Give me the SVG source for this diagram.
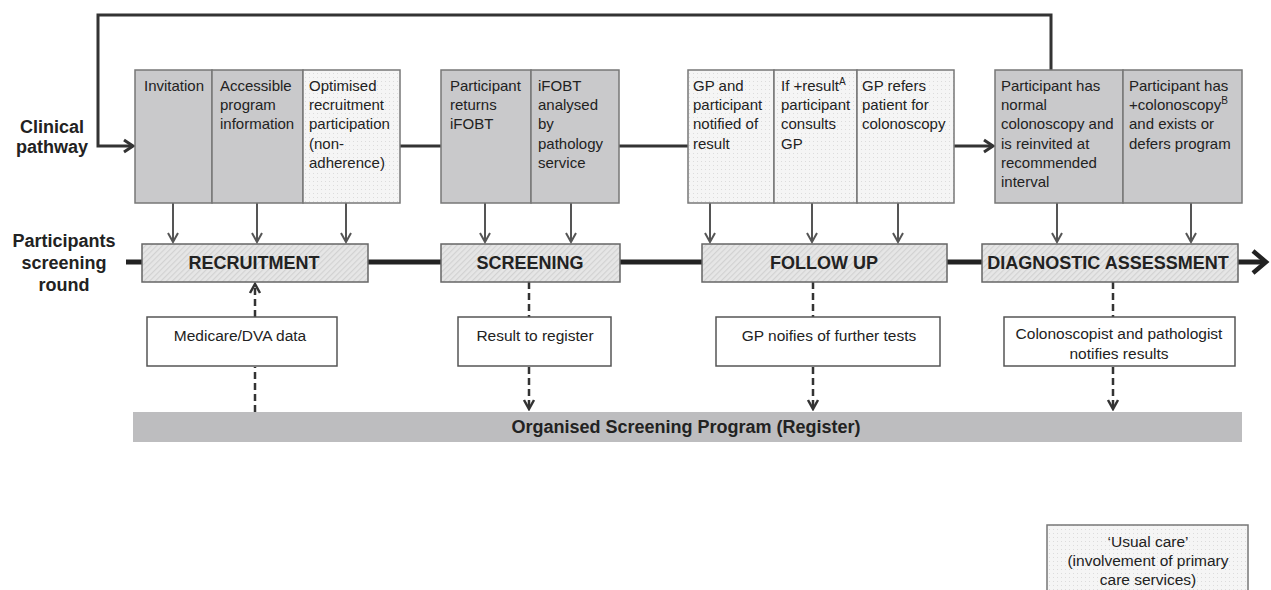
<svg xmlns="http://www.w3.org/2000/svg" width="1271" height="590" viewBox="0 0 1271 590">
<defs>
<style>
.t{font-family:"Liberation Sans",Arial,sans-serif;font-size:15px;fill:#222}
.s{font-family:"Liberation Sans",Arial,sans-serif;font-size:15.5px;fill:#222;text-anchor:middle}
.b{font-family:"Liberation Sans",Arial,sans-serif;font-size:18px;font-weight:bold;fill:#222;text-anchor:middle}
.gray{fill:#c9c9cb;stroke:#777;stroke-width:1.5}
.dot{fill:url(#dots);stroke:#777;stroke-width:1.5}
.stage{fill:url(#hatch);stroke:#666;stroke-width:1.5}
.wbox{fill:#fff;stroke:#555;stroke-width:1.5}
.top{fill:none;stroke:#333;stroke-width:3}
.down{fill:none;stroke:#555;stroke-width:2}
.dash{fill:none;stroke:#333;stroke-width:2.5;stroke-dasharray:7 4}
</style>
<pattern id="dots" width="4" height="4" patternUnits="userSpaceOnUse">
<rect width="4" height="4" fill="#f5f5f5"/>
<rect x="1" y="1" width="1" height="1" fill="#dcdcdc"/>
</pattern>
<pattern id="hatch" width="4" height="4" patternUnits="userSpaceOnUse" patternTransform="rotate(45)">
<rect width="4" height="4" fill="#e6e6e6"/>
<rect width="1.2" height="4" fill="#d2d2d2"/>
</pattern>
<marker id="mTop" viewBox="-12 -8 14 16" refX="0" refY="0" markerWidth="14" markerHeight="16" markerUnits="userSpaceOnUse" orient="auto">
<path d="M-9,-6 L0,0 L-9,6" fill="none" stroke="#333" stroke-width="3"/>
</marker>
<marker id="mDown" viewBox="-12 -8 14 16" refX="0" refY="0" markerWidth="14" markerHeight="16" markerUnits="userSpaceOnUse" orient="auto">
<path d="M-9,-5 L0,0 L-9,5" fill="none" stroke="#555" stroke-width="2"/>
</marker>
<marker id="mDash" viewBox="-12 -8 14 16" refX="0" refY="0" markerWidth="14" markerHeight="16" markerUnits="userSpaceOnUse" orient="auto">
<path d="M-9,-5 L0,0 L-9,5" fill="none" stroke="#333" stroke-width="2.5"/>
</marker>
<marker id="mMain" viewBox="-18 -14 22 28" refX="0" refY="0" markerWidth="22" markerHeight="28" markerUnits="userSpaceOnUse" orient="auto">
<path d="M-13,-11 L0,0 L-13,11" fill="none" stroke="#222" stroke-width="4.5"/>
</marker>
</defs>
<rect width="1271" height="590" fill="#fff"/>

<g id="connectors">
<line x1="126" y1="262" x2="1266" y2="262" stroke="#222" stroke-width="5" marker-end="url(#mMain)"/>
<path class="top" d="M1051,70 L1051,15 L98,15 L98,146 L133,146" marker-end="url(#mTop)"/>
<line class="top" x1="400" y1="146" x2="441" y2="146"/>
<line class="top" x1="619" y1="146" x2="688" y2="146"/>
<line class="top" x1="954" y1="146" x2="993" y2="146" marker-end="url(#mTop)"/>
<line class="down" x1="173" y1="203" x2="173" y2="242" marker-end="url(#mDown)"/>
<line class="down" x1="257" y1="203" x2="257" y2="242" marker-end="url(#mDown)"/>
<line class="down" x1="346" y1="203" x2="346" y2="242" marker-end="url(#mDown)"/>
<line class="down" x1="485" y1="203" x2="485" y2="242" marker-end="url(#mDown)"/>
<line class="down" x1="571" y1="203" x2="571" y2="242" marker-end="url(#mDown)"/>
<line class="down" x1="710" y1="203" x2="710" y2="242" marker-end="url(#mDown)"/>
<line class="down" x1="812" y1="203" x2="812" y2="242" marker-end="url(#mDown)"/>
<line class="down" x1="898" y1="203" x2="898" y2="242" marker-end="url(#mDown)"/>
<line class="down" x1="1057" y1="203" x2="1057" y2="242" marker-end="url(#mDown)"/>
<line class="down" x1="1191" y1="203" x2="1191" y2="242" marker-end="url(#mDown)"/>
<line class="dash" x1="255" y1="412" x2="255" y2="367"/>
<line class="dash" x1="255" y1="317" x2="255" y2="284" marker-end="url(#mDash)"/>
<line class="dash" x1="529" y1="282" x2="529" y2="317"/>
<line class="dash" x1="529" y1="367" x2="529" y2="409" marker-end="url(#mDash)"/>
<line class="dash" x1="813" y1="282" x2="813" y2="317"/>
<line class="dash" x1="813" y1="367" x2="813" y2="409" marker-end="url(#mDash)"/>
<line class="dash" x1="1113" y1="282" x2="1113" y2="317"/>
<line class="dash" x1="1113" y1="367" x2="1113" y2="409" marker-end="url(#mDash)"/>
</g>

<g id="label-clinical">
<text class="b" x="52" y="133">Clinical</text>
<text class="b" x="52" y="153">pathway</text>
</g>
<g id="label-participants">
<text class="b" x="64" y="247">Participants</text>
<text class="b" x="64" y="269">screening</text>
<text class="b" x="64" y="291">round</text>
</g>

<g id="clinical-recruitment">
<rect class="gray" x="135" y="70" width="77" height="133"/>
<rect class="gray" x="212" y="70" width="91" height="133"/>
<rect class="dot" x="303" y="70" width="97" height="133"/>
<text class="t"><tspan x="144" y="91">Invitation</tspan></text>
<text class="t"><tspan x="220" y="91">Accessible</tspan><tspan x="220" dy="19.2">program</tspan><tspan x="220" dy="19.2">information</tspan></text>
<text class="t"><tspan x="309" y="91">Optimised</tspan><tspan x="309" dy="19.2">recruitment</tspan><tspan x="309" dy="19.2">participation</tspan><tspan x="309" dy="19.2">(non-</tspan><tspan x="309" dy="19.2">adherence)</tspan></text>
</g>

<g id="clinical-screening">
<rect class="gray" x="441" y="70" width="90" height="133"/>
<rect class="gray" x="531" y="70" width="88" height="133"/>
<text class="t"><tspan x="450" y="91">Participant</tspan><tspan x="450" dy="19.2">returns</tspan><tspan x="450" dy="19.2">iFOBT</tspan></text>
<text class="t"><tspan x="538" y="91">iFOBT</tspan><tspan x="538" dy="19.2">analysed</tspan><tspan x="538" dy="19.2">by</tspan><tspan x="538" dy="19.2">pathology</tspan><tspan x="538" dy="19.2">service</tspan></text>
</g>

<g id="clinical-followup">
<rect class="dot" x="688" y="70" width="86" height="133"/>
<rect class="dot" x="774" y="70" width="83" height="133"/>
<rect class="dot" x="857" y="70" width="97" height="133"/>
<text class="t"><tspan x="693" y="91">GP and</tspan><tspan x="693" dy="19.2">participant</tspan><tspan x="693" dy="19.2">notified of</tspan><tspan x="693" dy="19.2">result</tspan></text>
<text class="t"><tspan x="781" y="91">If +result</tspan><tspan font-size="10" dy="-6">A</tspan><tspan x="781" dy="25.2">participant</tspan><tspan x="781" dy="19.2">consults</tspan><tspan x="781" dy="19.2">GP</tspan></text>
<text class="t"><tspan x="862" y="91">GP refers</tspan><tspan x="862" dy="19.2">patient for</tspan><tspan x="862" dy="19.2">colonoscopy</tspan></text>
</g>

<g id="clinical-diagnostic">
<rect class="gray" x="995" y="70" width="128" height="133"/>
<rect class="gray" x="1123" y="70" width="119" height="133"/>
<text class="t"><tspan x="1001" y="91">Participant has</tspan><tspan x="1001" dy="19.2">normal</tspan><tspan x="1001" dy="19.2">colonoscopy and</tspan><tspan x="1001" dy="19.2">is reinvited at</tspan><tspan x="1001" dy="19.2">recommended</tspan><tspan x="1001" dy="19.2">interval</tspan></text>
<text class="t"><tspan x="1129" y="91">Participant has</tspan><tspan x="1129" dy="19.2">+colonoscopy</tspan><tspan font-size="10" dy="-6">B</tspan><tspan x="1129" dy="25.2">and exists or</tspan><tspan x="1129" dy="19.2">defers program</tspan></text>
</g>

<g id="stage-recruitment">
<rect class="stage" x="142" y="244" width="226" height="38"/>
<text class="b" x="254" y="269">RECRUITMENT</text>
</g>
<g id="stage-screening">
<rect class="stage" x="441" y="244" width="179" height="38"/>
<text class="b" x="530" y="269">SCREENING</text>
</g>
<g id="stage-followup">
<rect class="stage" x="702" y="244" width="245" height="38"/>
<text class="b" x="824" y="269">FOLLOW UP</text>
</g>
<g id="stage-diagnostic">
<rect class="stage" x="982" y="244" width="256" height="38"/>
<text class="b" x="1108" y="269">DIAGNOSTIC ASSESSMENT</text>
</g>

<g id="info-medicare">
<rect class="wbox" x="147" y="317" width="190" height="49"/>
<text class="s" x="240" y="341">Medicare/DVA data</text>
</g>
<g id="info-result">
<rect class="wbox" x="458" y="317" width="153" height="49"/>
<text class="s" x="535" y="341">Result to register</text>
</g>
<g id="info-gp">
<rect class="wbox" x="716" y="317" width="224" height="49"/>
<text class="s" x="829" y="341">GP noifies of further tests</text>
</g>
<g id="info-colonoscopist">
<rect class="wbox" x="1004" y="317" width="231" height="49"/>
<text class="s" x="1119" y="339">Colonoscopist and pathologist</text>
<text class="s" x="1119" y="359">notifies results</text>
</g>

<g id="register">
<rect x="133" y="412" width="1109" height="30" fill="#bdbdbf"/>
<text class="b" x="686" y="433">Organised Screening Program (Register)</text>
</g>

<g id="legend">
<rect class="dot" x="1047" y="525" width="201" height="80"/>
<text class="s" x="1148" y="547" font-size="16">‘Usual care’</text>
<text class="s" x="1148" y="566" font-size="16">(involvement of primary</text>
<text class="s" x="1148" y="585" font-size="16">care services)</text>
</g>
</svg>
